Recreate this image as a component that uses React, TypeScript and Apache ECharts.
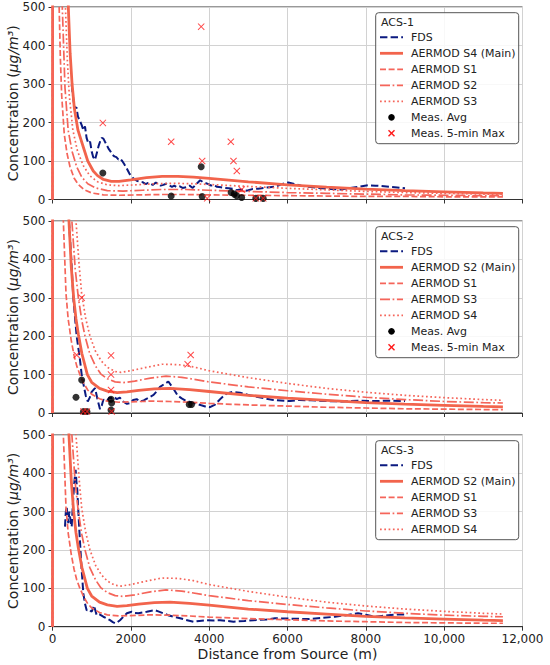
import React, { useEffect, useRef } from "react";
import * as echarts from "echarts";

type P = [number, number];

const FONT = "DejaVu Sans";
const X_TICKS = [0, 2000, 4000, 6000, 8000, 10000, 12000];
const X_TICK_LABELS = ["0", "2000", "4000", "6000", "8000", "10,000", "12,000"];
const PANEL_TITLES = ["ACS-1", "ACS-2", "ACS-3"];

// ---------- ACS-1 ----------
const ACS1_FDS: P[] = [
  [490, 298], [530, 262], [570, 235], [610, 240], [650, 215], [700, 205], [745, 193], [790, 180], [830, 190],
  [870, 160], [915, 146], [960, 150], [1000, 125], [1040, 110], [1085, 103], [1130, 120], [1180, 140], [1220, 152],
  [1255, 160], [1300, 158], [1340, 150], [1383, 142], [1430, 132], [1480, 125], [1530, 116], [1580, 112], [1630, 110],
  [1681, 104], [1730, 106], [1780, 100], [1830, 92], [1900, 80], [1960, 68], [2021, 59], [2100, 52], [2170, 48],
  [2234, 46], [2300, 45], [2380, 40], [2440, 43], [2489, 42], [2560, 38], [2640, 44], [2700, 40], [2760, 36],
  [2830, 38], [2900, 41], [2970, 37], [3050, 33], [3110, 36], [3170, 32], [3250, 34], [3320, 30], [3426, 32],
  [3500, 36], [3580, 30], [3650, 38], [3720, 45], [3770, 50], [3830, 46], [3900, 43], [3980, 40], [4050, 36],
  [4120, 38], [4200, 33], [4300, 32], [4400, 30], [4500, 29], [4600, 28], [4700, 24], [4800, 26], [4900, 22],
  [5000, 24], [5100, 27], [5250, 28], [5400, 30], [5550, 32], [5680, 33], [5850, 40], [6020, 44], [6200, 40],
  [6350, 36], [6530, 33], [6800, 30], [7100, 27], [7380, 26], [7600, 30], [7800, 33], [8060, 37], [8250, 36],
  [8400, 35], [8600, 33], [8800, 31], [9000, 29],
];
const ACS1_S1: P[] = [
  [0, 0], [50, 3500], [100, 1300], [140, 750], [170, 500], [200, 370], [235, 270], [300, 170], [370, 120], [447, 85],
  [550, 56], [650, 40], [800, 26], [1000, 17], [1300, 12], [1700, 11], [2200, 12], [2800, 13], [3400, 13], [4000, 12],
  [5000, 11], [6000, 10], [7000, 9], [8000, 8], [9000, 8], [10000, 7], [11000, 7], [11500, 7],
];
const ACS1_S2: P[] = [
  [0, 0], [50, 5000], [100, 2500], [170, 1000], [210, 700], [250, 500], [319, 290], [400, 180], [500, 125], [617, 85],
  [750, 58], [900, 41], [1100, 30], [1400, 23], [1800, 22], [2300, 24], [2800, 26], [3400, 26], [4000, 24], [5000, 21],
  [6000, 18], [7000, 16], [8000, 14], [9000, 12], [10000, 11], [11000, 10], [11500, 10],
];
const ACS1_S3: P[] = [
  [0, 0], [50, 7000], [100, 3500], [200, 1300], [270, 780], [330, 500], [380, 360], [429, 270], [520, 180], [640, 125],
  [787, 88], [950, 62], [1150, 46], [1400, 38], [1700, 36], [2100, 38], [2600, 41], [3100, 42], [3600, 41], [4000, 39],
  [5000, 34], [6000, 29], [7000, 25], [8000, 21], [9000, 18], [10000, 16], [11000, 14], [11500, 13],
];
const ACS1_S4: P[] = [
  [0, 0], [50, 9000], [100, 5000], [200, 2000], [300, 950], [404, 500], [450, 380], [500, 300], [560, 235], [650, 180],
  [790, 135], [900, 100], [1040, 74], [1150, 62], [1300, 52], [1500, 47], [1700, 47], [2000, 51], [2400, 57], [2800, 60],
  [3200, 60], [3600, 58], [4000, 55], [5000, 46], [6000, 38], [7000, 32], [8000, 27], [9000, 23], [10000, 20],
  [11000, 17], [11500, 16],
];
const ACS1_AVG: P[] = [
  [1285, 69], [3030, 9], [3796, 85], [3821, 8], [4560, 18], [4640, 14], [4700, 10], [4830, 5], [5190, 3], [5380, 3],
];
const ACS1_MAX: P[] = [
  [1285, 199], [3030, 150], [3796, 449], [3821, 100], [3950, 3], [4553, 150], [4621, 100], [4706, 74], [4830, 26],
  [5190, 3], [5380, 3],
];

// ---------- ACS-2 / ACS-3 AERMOD runs ----------
const ACS23_S1: P[] = [
  [0, 0], [50, 6000], [100, 3000], [150, 1600], [200, 950], [277, 500], [345, 310], [400, 245], [477, 190], [550, 150],
  [620, 122], [700, 100], [800, 77], [900, 60], [1000, 49], [1200, 37], [1400, 31], [1700, 28], [2000, 29], [2500, 31],
  [3000, 30], [3500, 28], [4000, 25], [5000, 21], [6000, 18], [7000, 15], [8000, 13], [9000, 11], [10000, 10],
  [11000, 9], [11500, 9],
];
const ACS23_S2: P[] = [
  [0, 0], [50, 9000], [100, 5000], [200, 2000], [300, 1000], [420, 500], [480, 380], [540, 300], [600, 245], [660, 205],
  [750, 155], [890, 100], [1000, 80], [1200, 64], [1400, 57], [1650, 53], [1900, 55], [2200, 59], [2600, 63], [3000, 64],
  [3500, 61], [4000, 56], [5000, 46], [6000, 39], [7000, 33], [8000, 27], [9000, 23], [10000, 20], [11000, 17],
  [11500, 16],
];
const ACS23_S3: P[] = [
  [0, 0], [50, 12000], [100, 6000], [200, 2500], [300, 1250], [400, 780], [495, 500], [580, 375], [660, 300], [750, 240],
  [830, 200], [950, 155], [1100, 122], [1230, 102], [1400, 89], [1600, 81], [1800, 79], [2100, 83], [2500, 91],
  [2900, 96], [3300, 93], [4000, 81], [5000, 68], [6000, 58], [7000, 49], [8000, 41], [9000, 35], [10000, 30],
  [11000, 27], [11500, 26],
];
const ACS23_S4: P[] = [
  [0, 0], [50, 15000], [100, 7000], [200, 3000], [300, 1550], [400, 980], [500, 700], [600, 500], [680, 385], [745, 310],
  [850, 245], [957, 200], [1100, 160], [1250, 135], [1400, 119], [1600, 108], [1750, 106], [2000, 110], [2400, 119],
  [2800, 127], [3200, 126], [3600, 120], [4000, 110], [5000, 92], [6000, 77], [7000, 64], [8000, 54], [9000, 46],
  [10000, 40], [11000, 35], [11500, 33],
];

// ---------- ACS-2 ----------
const ACS2_FDS: P[] = [
  [421, 500], [480, 400], [531, 300], [617, 200], [700, 140], [745, 100], [800, 70], [850, 45], [900, 30], [950, 40],
  [1000, 55], [1085, 65], [1150, 35], [1213, 10], [1260, 20], [1300, 35], [1380, 30], [1450, 40], [1510, 39],
  [1580, 42], [1640, 36], [1720, 40], [1800, 30], [1900, 24], [1980, 26], [2060, 34], [2150, 36], [2240, 30],
  [2330, 33], [2420, 38], [2490, 42], [2580, 47], [2650, 55], [2745, 68], [2850, 75], [2958, 82], [3085, 64],
  [3200, 45], [3298, 38], [3400, 32], [3510, 29], [3650, 25], [3800, 20], [3900, 17], [4021, 15], [4150, 22],
  [4300, 38], [4446, 51], [4600, 55], [4786, 53], [5000, 47], [5212, 42], [5420, 38], [5637, 34], [6063, 31],
  [6300, 34], [6600, 33], [7000, 31], [7400, 30], [7800, 32], [8200, 31], [8600, 32], [9000, 31],
];
const ACS2_AVG: P[] = [
  [600, 41], [745, 86], [790, 4], [880, 4], [1494, 36], [1494, 8], [1510, 26], [3490, 22], [3550, 22],
];
const ACS2_MAX: P[] = [
  [617, 151], [745, 300], [790, 4], [880, 4], [1494, 150], [1494, 100], [1494, 60], [1510, 4], [3451, 127], [3528, 151],
];

// ---------- ACS-3 ----------
const ACS3_FDS: P[] = [
  [319, 261], [340, 300], [362, 313], [385, 285], [404, 270], [430, 300], [450, 285], [470, 270], [490, 261],
  [510, 300], [531, 339], [560, 380], [591, 409], [610, 380], [634, 356], [660, 300], [685, 252], [715, 200],
  [745, 148], [787, 87], [830, 60], [872, 43], [930, 45], [1000, 39], [1060, 55], [1128, 30], [1200, 32], [1298, 26],
  [1380, 22], [1468, 17], [1540, 12], [1600, 9], [1660, 12], [1723, 17], [1800, 25], [1900, 35], [2021, 39],
  [2100, 36], [2192, 35], [2300, 37], [2405, 39], [2500, 41], [2618, 43], [2700, 40], [2830, 35], [2950, 30],
  [3085, 26], [3260, 22], [3400, 18], [3600, 13], [3750, 15], [3940, 17], [4100, 16], [4280, 17], [4450, 15],
  [4621, 13], [4900, 15], [5132, 17], [5472, 19], [5680, 22], [6100, 21], [6530, 20], [6900, 23], [7210, 26],
  [7500, 30], [7800, 35], [8000, 31], [8230, 26], [8400, 28], [8570, 30], [8800, 32], [9000, 32],
];

// ---------- styling ----------
const NAVY = "#0b1a80";
const MAIN_RED = "#f2644c";
const RED = "#f5655a";
const CROSS_RED = "#ff1a1a";
const DASHED = [6, 2.6];
const DASHDOT = [10, 2.6, 1.7, 2.6];
const DOTTED = [1.7, 2.6];
const FDS_DASH = [7.4, 3.2];
const CROSS_PATH =
  "path://M0,1L1,0L5,4L9,0L10,1L6,5L10,9L9,10L5,6L1,10L0,9L4,5Z";

const GRID_TOPS = [7, 221, 435];
const GRID_HEIGHTS = [192.5, 192, 191.7];
const GRID_LEFT = 52.5;
const GRID_RIGHT = 27.5;

type LineStyleKind = "fds" | "main" | "dashed" | "dashdot" | "dotted";
type Entry =
  | { label: string; kind: LineStyleKind }
  | { label: string; kind: "dot" }
  | { label: string; kind: "cross" };

interface Panel {
  fds: P[];
  main: { label: string; data: P[] };
  others: { label: string; data: P[] }[];
  avg?: P[];
  max?: P[];
}

const PANELS: Panel[] = [
  {
    fds: ACS1_FDS,
    main: { label: "AERMOD S4 (Main)", data: ACS1_S4 },
    others: [
      { label: "AERMOD S1", data: ACS1_S1 },
      { label: "AERMOD S2", data: ACS1_S2 },
      { label: "AERMOD S3", data: ACS1_S3 },
    ],
    avg: ACS1_AVG,
    max: ACS1_MAX,
  },
  {
    fds: ACS2_FDS,
    main: { label: "AERMOD S2 (Main)", data: ACS23_S2 },
    others: [
      { label: "AERMOD S1", data: ACS23_S1 },
      { label: "AERMOD S3", data: ACS23_S3 },
      { label: "AERMOD S4", data: ACS23_S4 },
    ],
    avg: ACS2_AVG,
    max: ACS2_MAX,
  },
  {
    fds: ACS3_FDS,
    main: { label: "AERMOD S2 (Main)", data: ACS23_S2 },
    others: [
      { label: "AERMOD S1", data: ACS23_S1 },
      { label: "AERMOD S3", data: ACS23_S3 },
      { label: "AERMOD S4", data: ACS23_S4 },
    ],
  },
];

const OTHER_KINDS: LineStyleKind[] = ["dashed", "dashdot", "dotted"];

function styleFor(kind: LineStyleKind) {
  switch (kind) {
    case "fds":
      return { color: NAVY, width: 2, type: FDS_DASH };
    case "main":
      return { color: MAIN_RED, width: 2.8, type: "solid" };
    case "dashed":
      return { color: RED, width: 1.7, type: DASHED };
    case "dashdot":
      return { color: RED, width: 1.7, type: DASHDOT };
    default:
      return { color: RED, width: 1.7, type: DOTTED };
  }
}

function legendGraphic(panelIdx: number, entries: Entry[]) {
  const boxTop = GRID_TOPS[panelIdx] + 5.7;
  const boxX = 375.7;
  const boxW = 143;
  const boxH = 19 + entries.length * 16;
  const els: any[] = [];
  els.push({
    type: "rect",
    z: 100,
    shape: { x: boxX, y: boxTop, width: boxW, height: boxH, r: 3 },
    style: { fill: "rgba(255,255,255,0.85)", stroke: "#555", lineWidth: 1 },
  });
  els.push({
    type: "text",
    z: 101,
    style: {
      text: PANEL_TITLES[panelIdx],
      x: 381,
      y: boxTop + 9.8,
      fill: "#222",
      fontSize: 11,
      fontFamily: FONT,
      verticalAlign: "middle",
      align: "left",
    },
  });
  entries.forEach((e, k) => {
    const y = boxTop + 24.6 + k * 16;
    if (e.kind === "dot") {
      els.push({ type: "circle", z: 101, shape: { cx: 391.5, cy: y, r: 3.3 }, style: { fill: "#000" } });
    } else if (e.kind === "cross") {
      els.push({
        type: "line",
        z: 101,
        shape: { x1: 388.5, y1: y - 3, x2: 394.5, y2: y + 3 },
        style: { stroke: CROSS_RED, lineWidth: 1.4 },
      });
      els.push({
        type: "line",
        z: 101,
        shape: { x1: 388.5, y1: y + 3, x2: 394.5, y2: y - 3 },
        style: { stroke: CROSS_RED, lineWidth: 1.4 },
      });
    } else {
      const s = styleFor(e.kind);
      els.push({
        type: "line",
        z: 101,
        shape: { x1: 380, y1: y, x2: 403, y2: y },
        style: {
          stroke: s.color,
          lineWidth: s.width,
          lineDash: Array.isArray(s.type) ? s.type : null,
        },
      });
    }
    els.push({
      type: "text",
      z: 101,
      style: {
        text: e.label,
        x: 411,
        y,
        fill: "#222",
        fontSize: 11,
        fontFamily: FONT,
        verticalAlign: "middle",
        align: "left",
      },
    });
  });
  return els;
}

function yTitleGraphic(panelIdx: number) {
  const cy = GRID_TOPS[panelIdx] + GRID_HEIGHTS[panelIdx] / 2;
  return {
    type: "text",
    z: 50,
    x: 13,
    y: cy,
    rotation: Math.PI / 2,
    style: {
      text: "Concentration ({i|μg/m³})",
      x: 0,
      y: 0,
      align: "center",
      verticalAlign: "middle",
      fill: "#222",
      fontSize: 14,
      fontFamily: FONT,
      rich: { i: { fontSize: 14, fontFamily: FONT, fontStyle: "italic", fill: "#222" } },
    },
  };
}

function buildOption() {
  const grid: any[] = [];
  const xAxis: any[] = [];
  const yAxis: any[] = [];
  const series: any[] = [];
  const graphic: any[] = [];

  PANELS.forEach((p, i) => {
    grid.push({
      left: GRID_LEFT,
      right: GRID_RIGHT,
      top: GRID_TOPS[i],
      height: GRID_HEIGHTS[i],
      show: true,
      borderColor: "#333",
      borderWidth: 1,
      backgroundColor: "transparent",
      containLabel: false,
      outerBoundsMode: "none",
    });
    xAxis.push({
      type: "value",
      gridIndex: i,
      min: 0,
      max: 12000,
      interval: 2000,
      axisLine: { show: true, onZero: false, lineStyle: { color: "#333", width: 1 } },
      axisTick: { show: true, inside: false, length: 4, lineStyle: { color: "#333" } },
      axisLabel: {
        show: i === 2,
        fontSize: 12,
        fontFamily: FONT,
        color: "#222",
        margin: 6,
        formatter: (v: number) => {
          const k = X_TICKS.indexOf(v);
          return k >= 0 ? X_TICK_LABELS[k] : "";
        },
      },
      splitLine: { show: true, lineStyle: { color: "#d2d2d2", width: 1 } },
      name: i === 2 ? "Distance from Source (m)" : "",
      nameLocation: "middle",
      nameGap: 20,
      nameTextStyle: { fontSize: 14, fontFamily: FONT, color: "#222", verticalAlign: "top" },
    });
    yAxis.push({
      type: "value",
      gridIndex: i,
      min: 0,
      max: 500,
      interval: 100,
      axisLine: { show: true, onZero: false, lineStyle: { color: "#333", width: 1 } },
      axisTick: { show: true, inside: false, length: 4, lineStyle: { color: "#333" } },
      axisLabel: { fontSize: 12, fontFamily: FONT, color: "#222", margin: 7 },
      splitLine: { show: true, lineStyle: { color: "#d2d2d2", width: 1 } },
    });
    graphic.push(yTitleGraphic(i));

    const addLine = (name: string, data: P[], kind: LineStyleKind, z: number) => {
      const s = styleFor(kind);
      series.push({
        type: "line",
        name,
        xAxisIndex: i,
        yAxisIndex: i,
        data,
        symbol: "none",
        showSymbol: false,
        clip: true,
        silent: true,
        z,
        lineStyle: { color: s.color, width: s.width, type: s.type, cap: "butt" },
      });
    };

    addLine("FDS", p.fds, "fds", 2);
    addLine(p.main.label, p.main.data, "main", 3);
    p.others.forEach((o, k) => addLine(o.label, o.data, OTHER_KINDS[k], 3));

    const entries: Entry[] = [
      { label: "FDS", kind: "fds" },
      { label: p.main.label, kind: "main" },
      ...p.others.map((o, k) => ({ label: o.label, kind: OTHER_KINDS[k] })),
    ];

    if (p.avg) {
      series.push({
        type: "scatter",
        name: "Meas. Avg",
        xAxisIndex: i,
        yAxisIndex: i,
        data: p.avg,
        symbol: "circle",
        symbolSize: 7,
        itemStyle: { color: "#000" },
        silent: true,
        z: 5,
      });
      entries.push({ label: "Meas. Avg", kind: "dot" });
    }
    if (p.max) {
      series.push({
        type: "scatter",
        name: "Meas. 5-min Max",
        xAxisIndex: i,
        yAxisIndex: i,
        data: p.max,
        symbol: CROSS_PATH,
        symbolSize: 7,
        itemStyle: { color: CROSS_RED },
        silent: true,
        z: 6,
      });
      entries.push({ label: "Meas. 5-min Max", kind: "cross" });
    }
    graphic.push(...legendGraphic(i, entries));
  });

  return {
    animation: false,
    backgroundColor: "#fff",
    textStyle: { fontFamily: FONT },
    grid,
    xAxis,
    yAxis,
    series,
    graphic,
  };
}

export default function App() {
  const ref = useRef<HTMLDivElement>(null);
  useEffect(() => {
    if (!ref.current) return;
    const chart = echarts.init(ref.current, undefined, { renderer: "svg" });
    chart.setOption(buildOption() as any);
    return () => chart.dispose();
  }, []);
  return (
    <div
      ref={ref}
      style={{ position: "fixed", left: 0, top: 0, width: 550, height: 665, background: "#fff" }}
    />
  );
}
